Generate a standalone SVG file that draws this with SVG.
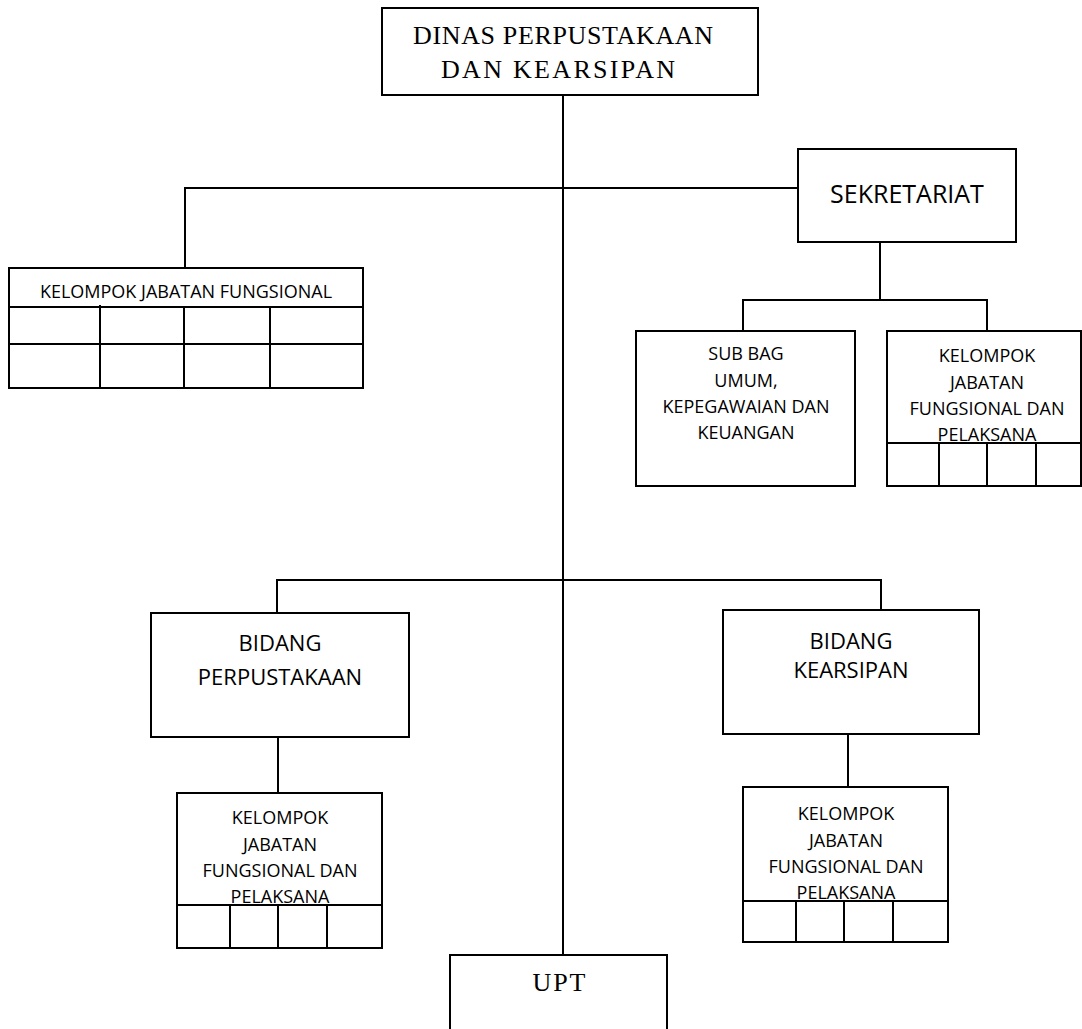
<svg xmlns="http://www.w3.org/2000/svg" width="1082" height="1029" viewBox="0 0 1082 1029">
<style>
.box{fill:#fff;stroke:#000;stroke-width:2}
.ln{stroke:#000;stroke-width:2;fill:none}
.serif{font-family:"Liberation Serif","Times New Roman",serif;font-size:26px;fill:#000;text-anchor:middle}
.big{font-family:"Open Sans","Noto Sans","Liberation Sans",sans-serif;font-size:25px;fill:#000;text-anchor:middle}
.mid{font-family:"Open Sans","Noto Sans","Liberation Sans",sans-serif;font-size:22px;fill:#000;text-anchor:middle}
.sm{font-family:"Open Sans","Noto Sans","Liberation Sans",sans-serif;font-size:18px;fill:#000;text-anchor:middle}
</style>
<g id="connectors">
<path class="ln" d="M563 95V955"/>
<path class="ln" d="M185 268V188H798"/>
<path class="ln" d="M880 242V300"/>
<path class="ln" d="M743 331V300H987V331"/>
<path class="ln" d="M277 613V580H881V610"/>
<path class="ln" d="M278 737V793"/>
<path class="ln" d="M848 734V787"/>
</g>
<g id="dinas">
<rect class="box" x="382" y="8" width="376" height="87"/>
<text class="serif" x="563" y="44" textLength="300" lengthAdjust="spacing">DINAS PERPUSTAKAAN</text>
<text class="serif" x="558" y="78" textLength="234" lengthAdjust="spacing">DAN KEARSIPAN</text>
</g>
<g id="sekretariat">
<rect class="box" x="798" y="149" width="218" height="93"/>
<text class="big" x="907" y="203">SEKRETARIAT</text>
</g>
<g id="kjf-top-left">
<rect class="box" x="9" y="268" width="354" height="120"/>
<path class="ln" d="M9 307H363M9 344H363M100 305V388M184 307V388M270 307V388"/>
<text class="sm" x="186" y="298">KELOMPOK JABATAN FUNGSIONAL</text>
</g>
<g id="subbag">
<rect class="box" x="636" y="331" width="219" height="155"/>
<text class="sm" x="746" y="360">SUB BAG</text>
<text class="sm" x="746" y="387">UMUM,</text>
<text class="sm" x="746" y="413">KEPEGAWAIAN DAN</text>
<text class="sm" x="746" y="439">KEUANGAN</text>
</g>
<g id="kjf-sekretariat">
<rect class="box" x="887" y="331" width="194" height="155"/>
<text class="sm" x="987" y="362">KELOMPOK</text>
<text class="sm" x="987" y="389">JABATAN</text>
<text class="sm" x="987" y="415">FUNGSIONAL DAN</text>
<text class="sm" x="987" y="441">PELAKSANA</text>
<path class="ln" d="M887 443H1081M939 443V486M987 443V486M1036 443V486"/>
</g>
<g id="bidang-perpustakaan">
<rect class="box" x="151" y="613" width="258" height="124"/>
<text class="mid" x="280" y="651">BIDANG</text>
<text class="mid" x="280" y="685">PERPUSTAKAAN</text>
</g>
<g id="bidang-kearsipan">
<rect class="box" x="723" y="610" width="256" height="124"/>
<text class="mid" x="851" y="649">BIDANG</text>
<text class="mid" x="851" y="678">KEARSIPAN</text>
</g>
<g id="kjf-perpustakaan">
<rect class="box" x="177" y="793" width="205" height="155"/>
<text class="sm" x="280" y="824">KELOMPOK</text>
<text class="sm" x="280" y="851">JABATAN</text>
<text class="sm" x="280" y="877">FUNGSIONAL DAN</text>
<text class="sm" x="280" y="903">PELAKSANA</text>
<path class="ln" d="M177 905H382M230 905V948M278 905V948M327 905V948"/>
</g>
<g id="kjf-kearsipan">
<rect class="box" x="743" y="787" width="205" height="155"/>
<text class="sm" x="846" y="820">KELOMPOK</text>
<text class="sm" x="846" y="847">JABATAN</text>
<text class="sm" x="846" y="873">FUNGSIONAL DAN</text>
<text class="sm" x="846" y="899">PELAKSANA</text>
<path class="ln" d="M743 901H948M796 901V942M844 901V942M893 901V942"/>
</g>
<g id="upt">
<rect class="box" x="450" y="955" width="217" height="90"/>
<text class="serif" x="559" y="991" textLength="53" lengthAdjust="spacing">UPT</text>
</g>
</svg>
